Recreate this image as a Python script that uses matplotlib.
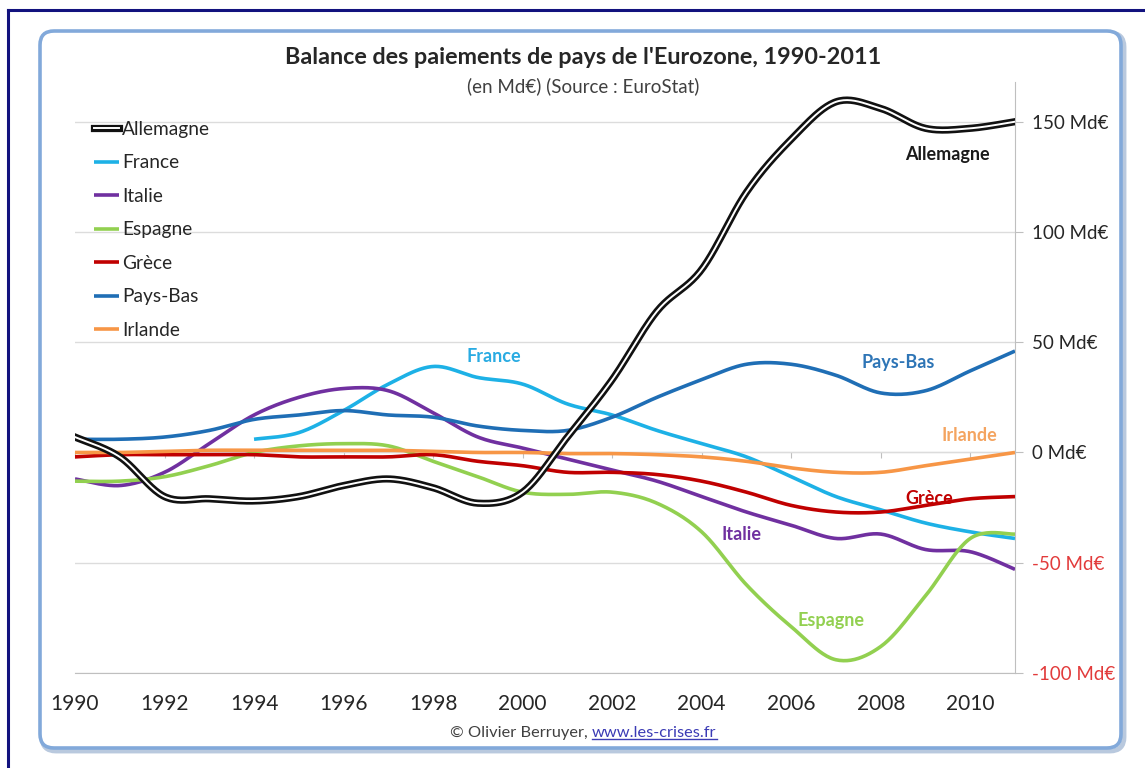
import matplotlib
matplotlib.use('Agg')
import matplotlib.pyplot as plt
import numpy as np
from matplotlib.patches import FancyBboxPatch
from matplotlib.lines import Line2D
from matplotlib.transforms import IdentityTransform
import matplotlib.patheffects as pe

# ---------------- data (Md€) ----------------
years = list(range(1990, 2012))
france_years = list(range(1994, 2012))

allemagne = [7, -2, -20, -21, -22, -20, -15, -12, -16, -23, -18, 7, 33, 64, 83, 118, 142, 159, 156, 147, 147, 150]
france = [6, 9, 19, 31, 39, 34, 31, 22, 17, 10, 4, -2, -11, -20, -26, -32, -36, -39]
italie = [-12, -15, -9, 4, 17, 25, 29, 28, 18, 7, 2, -3, -8, -13, -20, -27, -33, -39, -37, -44, -45, -53]
espagne = [-13, -13, -11, -6, 0, 3, 4, 3, -4, -11, -18, -19, -18, -23, -36, -60, -79, -94, -88, -65, -39, -37]
grece = [-2, -1, -1, -1, -1, -2, -2, -2, -1, -4, -6, -9, -9, -10, -13, -18, -24, -27, -27, -24, -21, -20]
paysbas = [6, 6, 7, 10, 15, 17, 19, 17, 16, 12, 10, 10, 16, 25, 33, 40, 40, 35, 27, 28, 37, 46]
irlande = [0, 0, 0.5, 1, 1, 1, 1, 1, 0.5, 0, 0, -0.5, -0.5, -1, -2, -4, -7, -9, -9, -6, -3, 0]

tick_years = list(range(1990, 2011, 2))
ytick_values = [-100, -50, 0, 50, 100, 150]
ytick_labels = [f"{v} Md€" for v in ytick_values]

title = "Balance des paiements de pays de l'Eurozone, 1990-2011"
subtitle = "(en Md€) (Source : EuroStat)"

# ---------------- style ----------------
plt.rcParams['font.family'] = ['Lato', 'DejaVu Sans']

C_ALL = '#111111'
C_FRA = '#1DB1E6'
C_ITA = '#7030A0'
C_ESP = '#92D050'
C_GRE = '#C00000'
C_PB = '#1F6EB5'
C_IRL = '#F79646'

W, H = 1145, 768
fig = plt.figure(figsize=(W / 100, H / 100), dpi=100)
fig.patch.set_facecolor('white')


def fx(px):
    return px / W


def fy(py):
    return 1 - py / H


def smooth(x, y, n=24):
    """Excel-like smoothed line (Catmull-Rom Bezier) through the points."""
    P = np.column_stack([np.asarray(x, float), np.asarray(y, float)])
    E = np.vstack([P[0], P, P[-1]])
    t = np.linspace(0, 1, n, endpoint=False)[:, None]
    out = []
    for i in range(len(P) - 1):
        p0, p1, p2, p3 = E[i], E[i + 1], E[i + 2], E[i + 3]
        c1 = p1 + (p2 - p0) / 6
        c2 = p2 - (p3 - p1) / 6
        out.append((1 - t) ** 3 * p1 + 3 * (1 - t) ** 2 * t * c1 + 3 * (1 - t) * t ** 2 * c2 + t ** 3 * p2)
    out.append(P[-1][None, :])
    r = np.vstack(out)
    return r[:, 0], r[:, 1]


# outer navy frame (cut by the image edges)
fig.add_artist(Line2D([fx(8), 1.0], [fy(10), fy(10)], color='#12127e', lw=2.2, zorder=-3))
fig.add_artist(Line2D([fx(8), fx(8)], [fy(10), 0.0], color='#12127e', lw=2.2, zorder=-3))

# rounded panel with soft shadow
shadow = FancyBboxPatch((42, H - 751), 1082, 718, boxstyle='round,pad=0,rounding_size=14',
                        transform=IdentityTransform(), facecolor='none', edgecolor='#b9c9de', lw=3.5,
                        zorder=-2)
panel = FancyBboxPatch((40, H - 748), 1081, 717, boxstyle='round,pad=0,rounding_size=14',
                       transform=IdentityTransform(), facecolor='white', edgecolor='#82a9da', lw=2.6,
                       zorder=-1)
fig.add_artist(shadow)
fig.add_artist(panel)

# ---------------- axes ----------------
ax = fig.add_axes([fx(75), fy(673), fx(1015) - fx(75), fy(82) - fy(673)])
ax.set_zorder(1)
ax.set_facecolor('none')
ax.set_xlim(1990, 2011)
ax.set_ylim(-100, 168)

ax.set_yticks(ytick_values)
ax.set_yticklabels(ytick_labels)
ax.yaxis.tick_right()
ax.tick_params(axis='y', length=6, color='#bfbfbf', pad=6, labelsize=13.5, labelcolor='#262626')
for lab, v in zip(ax.get_yticklabels(), ytick_values):
    if v < 0:
        lab.set_color('#e23b3b')
ax.yaxis.grid(True, color='#dcdcdc', lw=1)
ax.set_axisbelow(True)

ax.set_xticks(tick_years)
ax.set_xticklabels([str(y) for y in tick_years])
ax.tick_params(axis='x', length=0, pad=15, labelsize=15, labelcolor='#262626')

for s in ['left', 'top']:
    ax.spines[s].set_visible(False)
ax.spines['right'].set_color('#bfbfbf')
ax.spines['bottom'].set_color('#bfbfbf')

# horizontal axis crossing at 0 with its tick marks
sec = ax.secondary_xaxis((0 - ax.get_ylim()[0]) / (ax.get_ylim()[1] - ax.get_ylim()[0]))
sec.set_xticks(tick_years)
sec.tick_params(axis='x', length=4, color='#bfbfbf', labelbottom=False, labeltop=False)
for s in sec.spines.values():
    s.set_color('#bfbfbf')

# ---------------- series ----------------
lw = 2.6
series = [
    ('France', france_years, france, C_FRA),
    ('Italie', years, italie, C_ITA),
    ('Espagne', years, espagne, C_ESP),
    ('Grèce', years, grece, C_GRE),
    ('Pays-Bas', years, paysbas, C_PB),
    ('Irlande', years, irlande, C_IRL),
]
handles = {}
for name, xs, ys, col in series:
    sx, sy = smooth(xs, ys)
    h, = ax.plot(sx, sy, color=col, lw=lw, solid_capstyle='butt', label=name, zorder=3)
    handles[name] = h

sx, sy = smooth(years, allemagne)
h_all, = ax.plot(sx, sy, color='white', lw=1.4, label='Allemagne', zorder=4,
                 path_effects=[pe.Stroke(linewidth=5.2, foreground=C_ALL), pe.Normal()])
handles['Allemagne'] = h_all

order = ['Allemagne', 'France', 'Italie', 'Espagne', 'Grèce', 'Pays-Bas', 'Irlande']
leg = fig.legend([handles[k] for k in order], order, loc='upper left',
                 bbox_to_anchor=(fx(94), fy(121)), bbox_transform=fig.transFigure,
                 frameon=False, fontsize=13.8, handlelength=1.3, handletextpad=0.15,
                 labelspacing=0.86, borderpad=0, borderaxespad=0, labelcolor='#262626')
leg.set_zorder(5)

# in-chart series labels
labels = [
    ('Allemagne', 2009.5, 135, '#1a1a1a'),
    ('France', 1999.36, 43.5, '#29ABE2'),
    ('Pays-Bas', 2008.4, 41, '#2E75B6'),
    ('Irlande', 2009.98, 7.7, '#F4A460'),
    ('Grèce', 2009.08, -21, '#C00000'),
    ('Italie', 2004.9, -37, '#7030A0'),
    ('Espagne', 2006.9, -76, '#92D050'),
]
for txt, x, y, col in labels:
    ax.text(x, y, txt, color=col, fontsize=13, fontweight='bold', ha='center', va='center', zorder=5)

# ---------------- titles & footer ----------------
fig.text(fx(583), fy(57), title, ha='center', va='center', fontsize=16.8, fontweight='bold', color='#262626')
fig.text(fx(583), fy(86), subtitle, ha='center', va='center', fontsize=13.5, color='#404040')

t1 = fig.text(fx(450), fy(733), '© Olivier Berruyer, ', ha='left', va='center', fontsize=11.8, color='#404040')
fig.canvas.draw()
b1 = t1.get_window_extent()
t2 = fig.text(b1.x1 / W, fy(733), 'www.les-crises.fr', ha='left', va='center',
              fontsize=11.8, color='#3b3bb5')
fig.canvas.draw()
bb = t2.get_window_extent()
fig.add_artist(Line2D([bb.x0, bb.x1], [bb.y0 + 1, bb.y0 + 1], transform=IdentityTransform(),
                      color='#3b3bb5', lw=1))

fig.savefig('out.png', dpi=100, facecolor='white')
